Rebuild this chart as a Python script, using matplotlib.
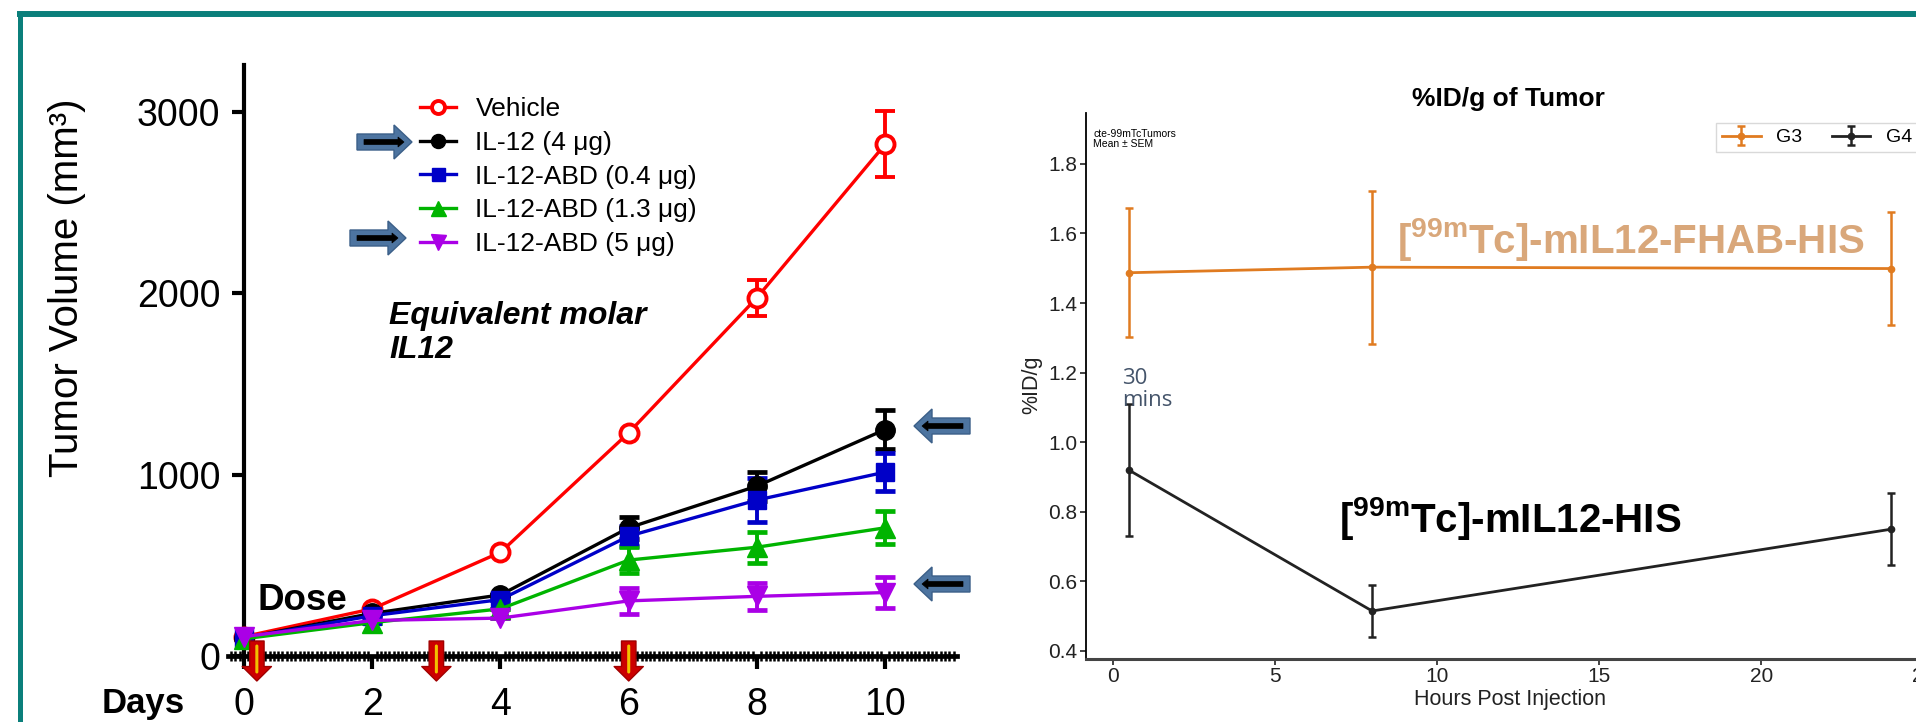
import matplotlib
matplotlib.use('Agg')
import matplotlib.pyplot as plt
from matplotlib import font_manager
from matplotlib.lines import Line2D
from matplotlib.patches import Polygon
from matplotlib.ticker import MultipleLocator

W, H = 1916, 722
DPI = 100

# ---------------- data: left panel (tumour volume, mm^3) ----------------
days = [0, 2, 4, 6, 8, 10]
series_labels = ['Vehicle', 'IL-12 (4 μg)', 'IL-12-ABD (0.4 μg)',
                 'IL-12-ABD (1.3 μg)', 'IL-12-ABD (5 μg)']
vehicle_mean = [107, 260, 572, 1231, 1976, 2822]
vehicle_err = [0, 0, 0, 0, 100, 182]
il12_mean = [100, 235, 337, 707, 937, 1249]
il12_err = [0, 0, 0, 60, 80, 110]
abd04_mean = [100, 222, 311, 661, 860, 1014]
abd04_err = [0, 0, 0, 55, 120, 105]
abd13_mean = [95, 184, 260, 529, 600, 707]
abd13_err = [0, 0, 0, 70, 85, 90]
abd5_mean = [107, 196, 209, 304, 329, 350]
abd5_err = [0, 0, 0, 70, 75, 85]
dose_days = [0.2, 3, 6]
left_yticks = [0, 1000, 2000, 3000]
left_xticks = [0, 2, 4, 6, 8, 10]

# ---------------- data: right panel (%ID/g of tumour) ----------------
hours = [0.5, 8, 24]
g3_mean = [1.487, 1.503, 1.499]
g3_err = [0.186, 0.220, 0.162]
g4_mean = [0.920, 0.515, 0.750]
g4_err = [0.190, 0.075, 0.103]
right_labels = ['G3', 'G4']
right_yticks = [0.4, 0.6, 0.8, 1.0, 1.2, 1.4, 1.6, 1.8]
right_xticks = [0, 5, 10, 15, 20, 25]

# ---------------- fonts ----------------
names = {f.name for f in font_manager.fontManager.ttflist}
NARROW = 'Liberation Sans Narrow' if 'Liberation Sans Narrow' in names else 'Liberation Sans'
SANS = 'Liberation Sans'
plt.rcParams['font.family'] = [SANS, 'DejaVu Sans']
plt.rcParams['mathtext.fontset'] = 'custom'
plt.rcParams['mathtext.rm'] = SANS
plt.rcParams['mathtext.bf'] = SANS + ':bold'
plt.rcParams['mathtext.it'] = SANS + ':italic'


def fx(x):
    return x / W


def fy(y):
    return 1 - y / H


fig = plt.figure(figsize=(W / DPI, H / DPI), dpi=DPI)
fig.patch.set_facecolor('white')

# teal frame
TEAL = '#0b7f7b'
fig.add_artist(Line2D([fx(17), 1.0], [fy(14), fy(14)], lw=4.3, color=TEAL, solid_capstyle='butt'))
fig.add_artist(Line2D([fx(19.5), fx(19.5)], [fy(11), 0.0], lw=3.6, color=TEAL, solid_capstyle='butt'))

# ================= LEFT PANEL =================
ax1 = fig.add_axes([fx(228), fy(656), (957 - 228) / W, (656 - 65) / H])
ax1.set_xlim(-0.25, 11.12)
ax1.set_ylim(0, 3259)
for s in ('top', 'right'):
    ax1.spines[s].set_visible(False)
ax1.spines['left'].set_position(('data', 0))
ax1.spines['left'].set_linewidth(3)
ax1.spines['bottom'].set_linewidth(3.4)
ax1.set_yticks(left_yticks)
ax1.set_xticks(left_xticks)
ax1.xaxis.set_minor_locator(MultipleLocator(1 / 15))
ax1.tick_params(axis='y', length=9, width=3, labelsize=27, pad=8)
ax1.tick_params(axis='x', which='major', length=9, width=3, labelsize=27, pad=13)
ax1.tick_params(axis='x', which='minor', length=7, width=1.8, direction='inout')
for lab in ax1.get_xticklabels() + ax1.get_yticklabels():
    lab.set_fontfamily(NARROW)

styles = [
    dict(color='#ff0000', marker='o', ms=13, mfc='white', mec='#ff0000', mew=2.8),
    dict(color='#000000', marker='o', ms=14, mfc='#000000', mec='#000000'),
    dict(color='#0000c8', marker='s', ms=13, mfc='#0000c8', mec='#0000c8'),
    dict(color='#00b400', marker='^', ms=15, mfc='#00b400', mec='#00b400'),
    dict(color='#aa00e6', marker='v', ms=15, mfc='#aa00e6', mec='#aa00e6'),
]
means = [vehicle_mean, il12_mean, abd04_mean, abd13_mean, abd5_mean]
errs = [vehicle_err, il12_err, abd04_err, abd13_err, abd5_err]
handles = []
for m, e, st in zip(means, errs, styles):
    c = st.pop('color')
    eb = ax1.errorbar(days, m, yerr=e, color=c, lw=2.4, elinewidth=2.8, capsize=7.5,
                      capthick=3.4, clip_on=False, zorder=3, **st)
    handles.append(eb.lines[0])

leg = ax1.legend(handles=handles, labels=series_labels, loc='upper left',
                 bbox_to_anchor=(fx(420), fy(97)), bbox_transform=fig.transFigure,
                 frameon=False, prop=dict(family=SANS, size=19), handlelength=1.35,
                 handletextpad=0.75, labelspacing=0.37, borderpad=0, borderaxespad=0,
                 markerscale=0.72)

# dose arrows
ah = 656 - 65
for d in dose_days:
    ax1.annotate('', xy=(d, (656 - 681) / ah), xycoords=('data', 'axes fraction'),
                 xytext=(d, (656 - 641) / ah), textcoords=('data', 'axes fraction'),
                 arrowprops=dict(arrowstyle='simple,head_length=0.52,head_width=1.05,tail_width=0.52',
                                 fc='#cc0000', ec='#a00000', lw=1, mutation_scale=20,
                                 shrinkA=0, shrinkB=0),
                 annotation_clip=False, zorder=5)
    ax1.annotate('', xy=(d, (656 - 672) / ah), xycoords=('data', 'axes fraction'),
                 xytext=(d, (656 - 646) / ah), textcoords=('data', 'axes fraction'),
                 arrowprops=dict(arrowstyle='-', color='#f2c200', lw=2.2, shrinkA=0, shrinkB=0),
                 annotation_clip=False, zorder=6)

fig.text(fx(67), fy(288), 'Tumor Volume (mm³)', rotation=90, ha='center', va='center',
         fontsize=29, family=SANS)
fig.text(fx(143), fy(703), 'Days', ha='center', va='center', fontsize=25,
         fontweight='bold', family=NARROW)
fig.text(fx(302), fy(600), 'Dose', ha='center', va='center', fontsize=26.5,
         fontweight='bold', family=NARROW)
fig.text(fx(389), fy(333), 'Equivalent molar\nIL12', ha='left', va='center', fontsize=23,
         fontweight='bold', fontstyle='italic', family=NARROW, linespacing=1.2)


def block_arrow(x0, x1, yc, direction):
    """steel-blue block arrow with a black inner arrow (pixel coords)"""
    hl = 18
    if direction == 'right':
        pts = [(x0, yc - 8), (x1 - hl, yc - 8), (x1 - hl, yc - 17), (x1, yc),
               (x1 - hl, yc + 17), (x1 - hl, yc + 8), (x0, yc + 8)]
        inner = [(x0 + 7, yc - 2.5), (x1 - 14, yc - 2.5), (x1 - 14, yc - 5), (x1 - 8, yc),
                 (x1 - 14, yc + 5), (x1 - 14, yc + 2.5), (x0 + 7, yc + 2.5)]
    else:
        pts = [(x1, yc - 8), (x0 + hl, yc - 8), (x0 + hl, yc - 17), (x0, yc),
               (x0 + hl, yc + 17), (x0 + hl, yc + 8), (x1, yc + 8)]
        inner = [(x1 - 7, yc - 2.5), (x0 + 14, yc - 2.5), (x0 + 14, yc - 5), (x0 + 8, yc),
                 (x0 + 14, yc + 5), (x0 + 14, yc + 2.5), (x1 - 7, yc + 2.5)]
    fig.add_artist(Polygon([(fx(a), fy(b)) for a, b in pts], closed=True,
                           fc='#4d74a0', ec='#3b5f88', lw=1, transform=fig.transFigure))
    fig.add_artist(Polygon([(fx(a), fy(b)) for a, b in inner], closed=True,
                           fc='black', ec='black', lw=0.5, transform=fig.transFigure))


block_arrow(357, 412, 142, 'right')
block_arrow(350, 406, 238, 'right')
block_arrow(914, 970, 426, 'left')
block_arrow(914, 970, 584, 'left')

# ================= RIGHT PANEL =================
ax2 = fig.add_axes([fx(1086), fy(659), (1956 - 1086) / W, (659 - 113) / H])
ax2.set_xlim(-0.82, 26.0)
ax2.set_ylim(0.377, 1.946)
for s in ('top', 'right'):
    ax2.spines[s].set_visible(False)
ax2.spines['left'].set_linewidth(1.3)
ax2.spines['bottom'].set_linewidth(2.2)
ax2.spines['bottom'].set_color('#444444')
ax2.set_yticks(right_yticks)
ax2.set_yticklabels([f'{v:.1f}' for v in right_yticks])
ax2.set_xticks(right_xticks)
ax2.tick_params(axis='both', length=4, width=1.2, labelsize=15, pad=2, colors='#222222')

G3C = '#e07b20'
eb3 = ax2.errorbar(hours, g3_mean, yerr=g3_err, color=G3C, lw=2.0, marker='o', ms=4.5,
                   capsize=3, capthick=1.8, elinewidth=1.8)
eb4 = ax2.errorbar(hours, g4_mean, yerr=g4_err, color='#222222', lw=2.0, marker='o', ms=4.5,
                   capsize=3, capthick=1.8, elinewidth=1.8)
ax2.legend(handles=[eb3, eb4], labels=right_labels, ncol=2, loc='upper left',
           bbox_to_anchor=(fx(1716), fy(123)), bbox_transform=fig.transFigure,
           fontsize=14, frameon=True, fancybox=False, edgecolor='#d0d0d0',
           handlelength=2.0, handletextpad=0.8, columnspacing=1.5, borderpad=0.3,
           borderaxespad=0)

fig.text(fx(1508), fy(99), '%ID/g of Tumor', ha='center', va='center', fontsize=19,
         fontweight='bold')
fig.text(fx(1510), fy(699), 'Hours Post Injection', ha='center', va='center', fontsize=15.5,
         color='#222222')
fig.text(fx(1032), fy(385), '%ID/g', rotation=90, ha='center', va='center', fontsize=15.5,
         color='#222222')
fig.text(fx(1093), fy(139), 'cte-99mTcTumors\nMean ± SEM', ha='left', va='center',
         fontsize=7.5, linespacing=1.1)
fig.text(fx(1122), fy(378), '30', ha='left', va='center', fontsize=16, color='#44546a',
         family='Open Sans')
fig.text(fx(1122), fy(401), 'mins', ha='left', va='center', fontsize=16, color='#44546a',
         family='Open Sans')
fig.text(fx(1397), fy(240), r'[$^{\mathbf{99m}}$Tc]-mIL12-FHAB-HIS', ha='left', va='center',
         fontsize=29, fontweight='bold', family=NARROW, color='#d9a77a')
fig.text(fx(1339), fy(518), r'[$^{\mathbf{99m}}$Tc]-mIL12-HIS', ha='left', va='center',
         fontsize=29, fontweight='bold', family=NARROW, color='black')

fig.savefig('out.png', dpi=DPI, facecolor='white')
